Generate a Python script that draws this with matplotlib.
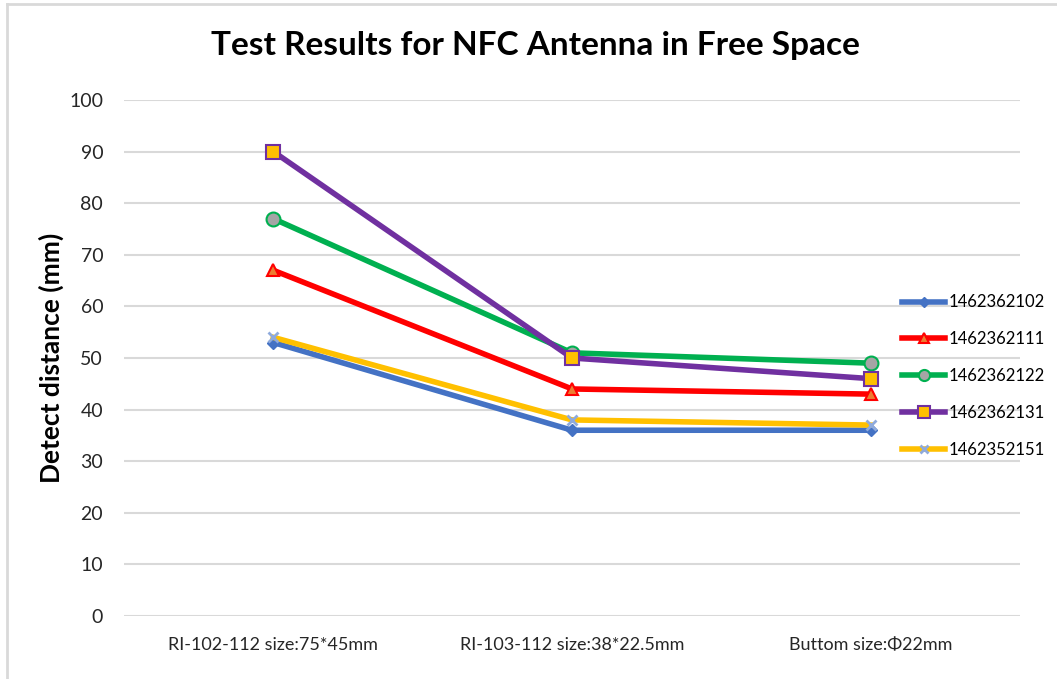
import matplotlib
matplotlib.use("Agg")
import matplotlib.pyplot as plt
from matplotlib.lines import Line2D

categories = ["RI-102-112 size:75*45mm", "RI-103-112 size:38*22.5mm", "Buttom size:Φ22mm"]
series_names = ["1462362102", "1462362111", "1462362122", "1462362131", "1462352151"]
s_102 = [53, 36, 36]
s_111 = [67, 44, 43]
s_122 = [77, 51, 49]
s_131 = [90, 50, 46]
s_151 = [54, 38, 37]
y_ticks = [0, 10, 20, 30, 40, 50, 60, 70, 80, 90, 100]

plt.rcParams['font.family'] = ['Lato', 'DejaVu Sans']

W, H = 1057, 679
fig = plt.figure(figsize=(W/100, H/100), dpi=100)
ax = fig.add_axes([124/W, 1-616/H, (1020-124)/W, (616-100)/H])

styles = [
    dict(color="#4472C4", marker="D", ms=6, mfc="#4472C4", mec="#4472C4"),
    dict(color="#FF0000", marker="^", ms=9, mfc="#ED7D31", mec="#FF0000", mew=1.5),
    dict(color="#00B050", marker="o", ms=10, mfc="#A5A5A5", mec="#00B050", mew=1.5),
    dict(color="#7030A0", marker="s", ms=10, mfc="#FFC000", mec="#7030A0", mew=1.5),
    dict(color="#FFC000", marker="x", ms=7, mfc="#8FAADC", mec="#8FAADC", mew=2),
]
data = [s_102, s_111, s_122, s_131, s_151]
x = [0, 1, 2]
order = [0, 4, 1, 2, 3]
for i in order:
    ax.plot(x, data[i], lw=4, zorder=3 + i, **styles[i])

ax.set_xlim(-0.5, 2.5)
ax.set_ylim(0, 100)
ax.set_yticks(y_ticks)
ax.set_xticks(x)
ax.set_xticklabels(categories, fontsize=13, color="#262626")
ax.tick_params(axis='y', labelsize=14, colors="#262626", length=0, pad=15)
ax.tick_params(axis='x', length=0, pad=15)
ax.grid(axis='y', color="#D9D9D9", lw=1.5)
ax.set_axisbelow(True)
for sp in ax.spines.values():
    sp.set_visible(False)
ax.set_ylabel("Detect distance (mm)", fontsize=19, fontweight='bold', color="black", labelpad=4)

fig.text(535/W, 1-45/H, "Test Results for NFC Antenna in Free Space", fontsize=24,
         fontweight='bold', ha='center', va='center', color="black")

leg_styles = [dict(s) for s in styles]
for s in leg_styles:
    s['ms'] = s['ms'] * 0.8
handles = [Line2D([0], [0], lw=4, **leg_styles[i]) for i in range(5)]
fig.legend(handles, series_names, loc='center left', bbox_to_anchor=(902/W, 1-376/H),
           frameon=False, fontsize=12, handlelength=2.6, labelspacing=1.25,
           handletextpad=0.2, borderaxespad=0, borderpad=0)

# chart border (left and top visible)
fig.add_artist(Line2D([7/W, 7/W], [0, 1-4/H], color="#D9D9D9", lw=2))
fig.add_artist(Line2D([7/W, 1], [1-4/H, 1-4/H], color="#D9D9D9", lw=2))

fig.savefig("out.png", dpi=100)
